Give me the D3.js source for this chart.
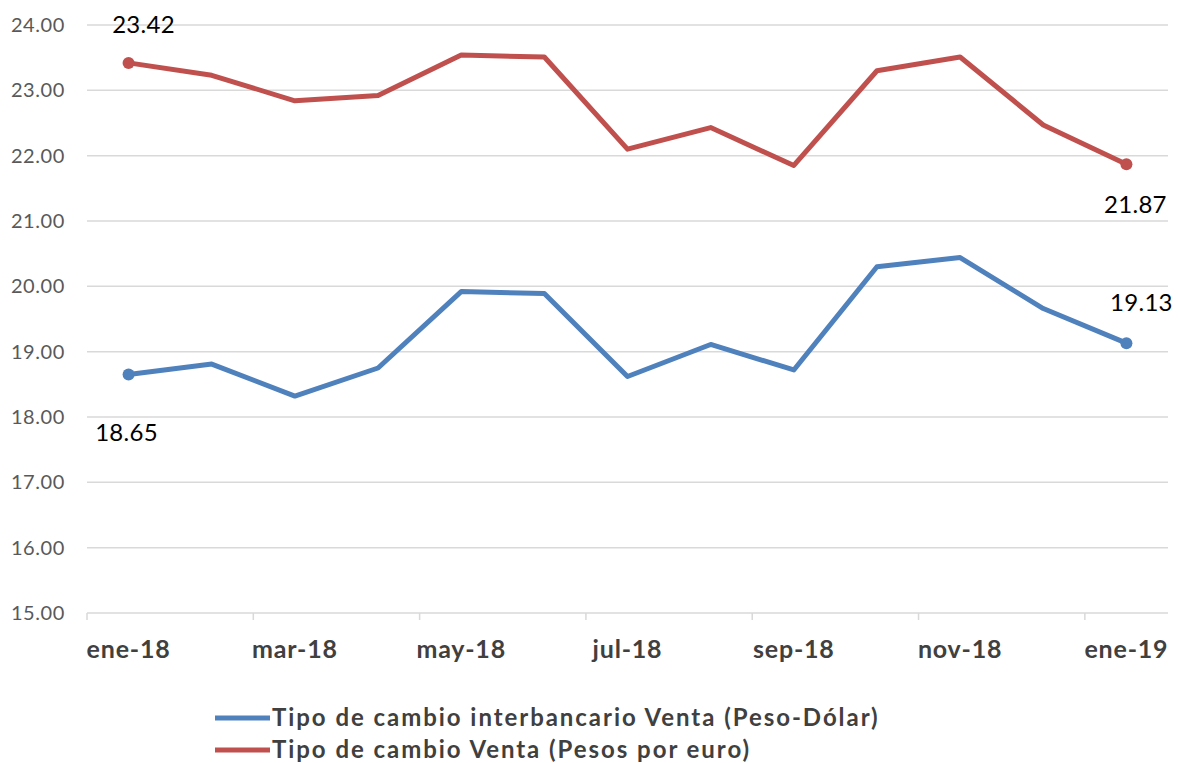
<!DOCTYPE html>
<html>
<head>
<meta charset="utf-8">
<script src="https://cdn.jsdelivr.net/npm/d3@7"></script>
<style>
  body { margin: 0; background: #fff; }
  text { font-family: Lato, "Open Sans", sans-serif; }
</style>
</head>
<body>
<div id="chart"></div>
<script>
// Data
const months = ["ene-18", "feb-18", "mar-18", "abr-18", "may-18", "jun-18", "jul-18",
                "ago-18", "sep-18", "oct-18", "nov-18", "dic-18", "ene-19"];
const dolar = [18.65, 18.81, 18.32, 18.75, 19.92, 19.89, 18.62, 19.11, 18.72, 20.30, 20.44, 19.66, 19.13];
const euro = [23.42, 23.23, 22.84, 22.92, 23.54, 23.51, 22.10, 22.43, 21.85, 23.30, 23.51, 22.47, 21.87];
const yTicks = [15, 16, 17, 18, 19, 20, 21, 22, 23, 24];
const seriesNames = ["Tipo de cambio interbancario Venta (Peso-Dólar)", "Tipo de cambio Venta (Pesos por euro)"];

const width = 1180;
const height = 763;
const margin = { top: 25, right: 12, bottom: 150, left: 87 };

const svg = d3.select("#chart")
    .append("svg")
    .attr("width", width)
    .attr("height", height);

const x = d3.scaleBand()
    .domain(months)
    .range([margin.left, width - margin.right]);

const y = d3.scaleLinear()
    .domain([15, 24])
    .range([height - margin.bottom, margin.top]);

// Gridlines
svg.append("g")
    .selectAll("line")
    .data(yTicks)
    .enter()
    .append("line")
    .attr("x1", margin.left)
    .attr("x2", width - margin.right)
    .attr("y1", d => y(d))
    .attr("y2", d => y(d))
    .attr("stroke", "#d9d9d9")
    .attr("stroke-width", 1.5);

// Y axis labels
svg.append("g")
    .selectAll("text")
    .data(yTicks)
    .enter()
    .append("text")
    .attr("x", 65)
    .attr("y", d => y(d))
    .attr("dy", "0.35em")
    .attr("text-anchor", "end")
    .attr("fill", "#595959")
    .style("font-size", "20px")
    .style("letter-spacing", "0.6px")
    .text(d => d.toFixed(2));

// X axis: tick every 2 months at band edge
const xAxis = svg.append("g")
    .attr("transform", `translate(0, ${y(15)})`);

xAxis.selectAll("line.tick")
    .data(months.filter((d, i) => i % 2 === 0))
    .enter()
    .append("line")
    .attr("x1", d => x(d))
    .attr("x2", d => x(d))
    .attr("y1", 0)
    .attr("y2", 7)
    .attr("stroke", "#d9d9d9")
    .attr("stroke-width", 1.5);

xAxis.selectAll("text")
    .data(months.filter((d, i) => i % 2 === 0))
    .enter()
    .append("text")
    .attr("x", d => x(d) + x.bandwidth() / 2)
    .attr("y", 45)
    .attr("text-anchor", "middle")
    .attr("fill", "#404040")
    .style("font-size", "25px")
    .style("font-weight", "bold")
    .style("letter-spacing", "0.8px")
    .text(d => d);

// Lines
const line = d3.line()
    .x((d, i) => x(months[i]) + x.bandwidth() / 2)
    .y(d => y(d));

const series = [
    { name: seriesNames[0], values: dolar, color: "#4f81bd" },
    { name: seriesNames[1], values: euro, color: "#c0504d" }
];

series.forEach(s => {
    svg.append("path")
        .datum(s.values)
        .attr("fill", "none")
        .attr("stroke", s.color)
        .attr("stroke-width", 5)
        .attr("stroke-linejoin", "round")
        .attr("d", line);

    // end markers
    [0, s.values.length - 1].forEach(i => {
        svg.append("circle")
            .attr("cx", x(months[i]) + x.bandwidth() / 2)
            .attr("cy", y(s.values[i]))
            .attr("r", 6)
            .attr("fill", s.color);
    });
});

// Data labels at ends
const labels = [
    { v: euro[0], i: 0, dx: 15, dy: -30 },
    { v: euro[12], i: 12, dx: 9, dy: 49 },
    { v: dolar[0], i: 0, dx: -2, dy: 66 },
    { v: dolar[12], i: 12, dx: 15, dy: -32 }
];

svg.append("g")
    .selectAll("text")
    .data(labels)
    .enter()
    .append("text")
    .attr("x", d => x(months[d.i]) + x.bandwidth() / 2 + d.dx)
    .attr("y", d => y(d.v) + d.dy)
    .attr("text-anchor", "middle")
    .attr("fill", "#000")
    .style("font-size", "24px")
    .style("letter-spacing", "0.3px")
    .text(d => d.v.toFixed(2));

// Legend
const legend = svg.append("g")
    .attr("transform", "translate(215, 718)");

series.forEach((s, i) => {
    legend.append("line")
        .attr("x1", 0)
        .attr("x2", 55)
        .attr("y1", i * 32)
        .attr("y2", i * 32)
        .attr("stroke", s.color)
        .attr("stroke-width", 5);

    legend.append("text")
        .attr("x", 57)
        .attr("y", i * 32)
        .attr("dy", "0.35em")
        .attr("fill", "#404040")
        .style("font-size", "24px")
        .style("font-weight", "bold")
        .style("letter-spacing", "1.95px")
        .text(s.name);
});
</script>
</body>
</html>
